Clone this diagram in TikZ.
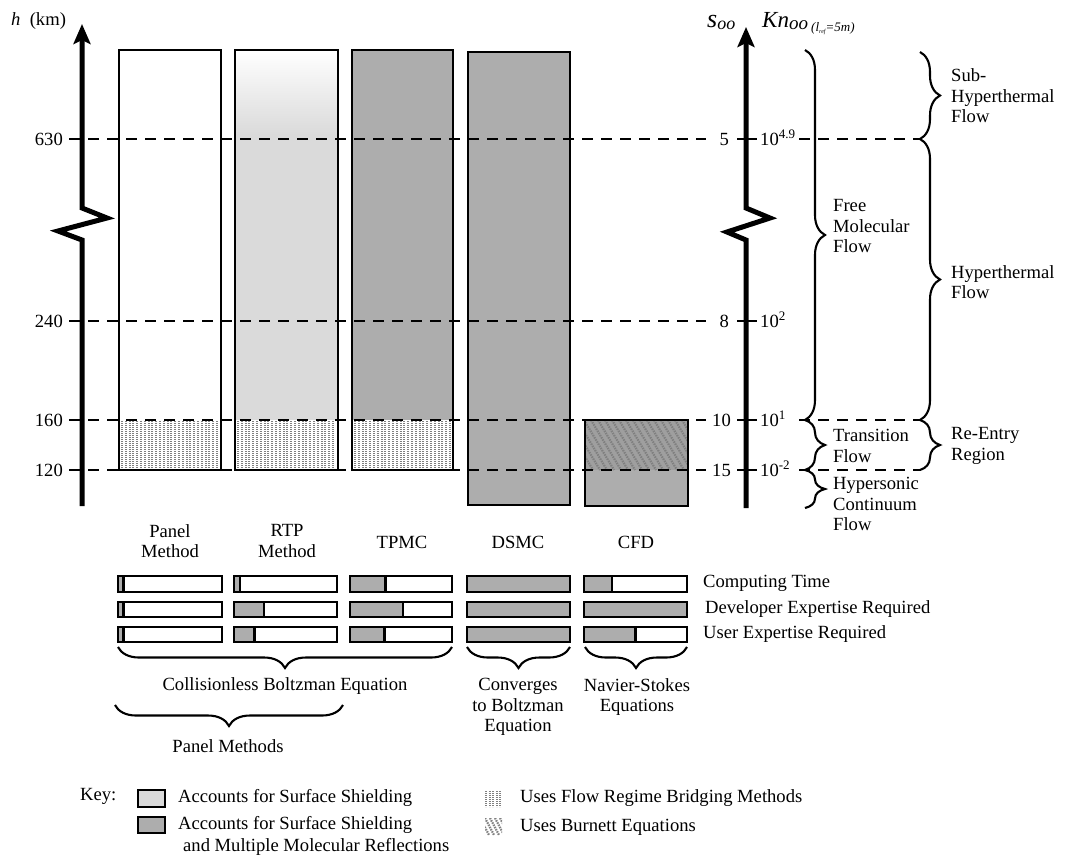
\documentclass[tikz,border=0pt]{standalone}
\usepackage{fontspec}
\setmainfont{Liberation Serif}
\usetikzlibrary{arrows.meta,decorations.pathreplacing}
\definecolor{midgray}{gray}{0.68}
\definecolor{litegray}{gray}{0.855}
\definecolor{hatchgray}{gray}{0.5}
\tikzset{
  txt/.style={font=\fontsize{18.6}{20.5}\selectfont, inner sep=0pt, align=left},
  ctxt/.style={txt, align=center},
  axisline/.style={line width=5pt, line join=miter, -{Stealth[length=20pt,width=17pt,inset=4pt]}},
  level/.style={line width=2.6pt, dash pattern=on 11pt off 8pt},
  tickmark/.style={line width=2.6pt},
  colbox/.style={line width=2.8pt},
  barbox/.style={line width=2.6pt},
  bracer/.style={decorate, decoration={brace, amplitude=20pt}, line width=2.1pt},
  braced/.style={decorate, decoration={brace, amplitude=21pt}, line width=2.1pt},
  hatchv/.style={line width=2pt, hatchgray, dash pattern=on 1.2pt off 0.8pt},
  hatchd/.style={line width=2.2pt, hatchgray, dash pattern=on 1.5pt off 1pt},
}
\begin{document}
\begin{tikzpicture}[x=1pt,y=-1pt]
\useasboundingbox (0,0) rectangle (1065,863);
\fill[white] (0,0) rectangle (1065,863);

% ---------- columns ----------
% Panel
\fill[white] (119,50) rectangle (221,470);
\foreach \x in {122,125.8,...,219} \draw[hatchv] (\x,421) -- (\x,469);
\draw[colbox] (119,50) rectangle (221,470);
% RTP
\shade[top color=white,bottom color=litegray] (235,50) rectangle (338,135);
\fill[litegray] (235,134) rectangle (338,420);
\foreach \x in {238,241.8,...,336} \draw[hatchv] (\x,421) -- (\x,469);
\draw[colbox] (235,50) rectangle (338,470);
% TPMC
\fill[midgray] (352,50) rectangle (453,420);
\foreach \x in {355,358.8,...,451} \draw[hatchv] (\x,421) -- (\x,469);
\draw[colbox] (352,50) rectangle (453,470);
% DSMC
\fill[midgray] (468,52) rectangle (570,505);
\draw[colbox] (468,52) rectangle (570,505);
% CFD
\fill[midgray] (585,420) rectangle (688,506);
\fill[gray!75!white] (585,420) rectangle (688,470);
\begin{scope}
  \clip (585,420) rectangle (688,470);
  \foreach \x in {535,542,...,700} \draw[hatchd] (\x,420) -- (\x+30,470);
\end{scope}
\draw[colbox] (585,420) rectangle (688,506);

% ---------- level lines ----------
\draw[level] (69,139) -- (706,139);
\draw[level] (69,321) -- (706,321);
\draw[level] (69,420) -- (706,420);
\draw[level] (69,470) -- (706,470);
\draw[level] (799,139) -- (921,139);
\draw[level] (799,420) -- (921,420);
\draw[level] (799,470) -- (921,470);
\foreach \y in {139,321,420,470} \draw[tickmark] (737,\y) -- (757,\y);

% ---------- axes ----------
\draw[axisline] (82,506) -- (82,240) -- (58,231) -- (107,218) -- (82,208) -- (82,24);
\draw[axisline] (746,508) -- (746,240) -- (727,232) -- (770,218) -- (746,208) -- (746,27);

% axis titles
\node[txt, anchor=base west] (hkm) at (11,25) {\itshape h\upshape\ \ (km)};
\node[txt, anchor=base west] (soo) at (707,27) {\fontsize{26}{26}\selectfont\itshape s\raisebox{-2pt}{\fontsize{18}{18}\selectfont oo}};
\node[txt, anchor=base west] (kn) at (762,27) {\fontsize{23}{23}\selectfont\itshape Kn\raisebox{-2pt}{\fontsize{19}{19}\selectfont oo\,\raisebox{-2pt}{\fontsize{13}{13}\selectfont(l\raisebox{-2pt}{\fontsize{6}{6}\selectfont ref}=5m)}}};

% left tick labels
\node[txt, anchor=east] (h630) at (63,139) {630};
\node[txt, anchor=east] (h240) at (63,321) {240};
\node[txt, anchor=east] (h160) at (63,420) {160};
\node[txt, anchor=east] (h120) at (63,470) {120};
% right tick labels
\node[txt, anchor=east] (s5) at (729,139) {5};
\node[txt, anchor=east] (s8) at (729,321) {8};
\node[txt, anchor=east] (s10) at (731,420) {10};
\node[txt, anchor=east] (s15) at (731,470) {15};
\node[txt, anchor=base west] (k1) at (760,145) {10\textsuperscript{4.9}};
\node[txt, anchor=base west] (k2) at (760,327) {10\textsuperscript{2}};
\node[txt, anchor=base west] (k3) at (760,426) {10\textsuperscript{1}};
\node[txt, anchor=base west] (k4) at (760,476) {10\textsuperscript{-2}};

% ---------- right braces ----------
\draw[bracer] (805,50) -- (805,420);
\draw[bracer] (805,420) -- (805,470);
\draw[bracer] (805,470) -- (805,508);
\draw[bracer] (920,52) -- (920,139);
\draw[bracer] (920,139) -- (920,420);
\draw[bracer] (920,420) -- (920,470);
\node[txt, anchor=west] (fmf) at (833,226) {Free\\Molecular\\Flow};
\node[txt, anchor=west] (tf) at (833,446) {Transition\\Flow};
\node[txt, anchor=west] (hcf) at (833,504) {Hypersonic\\Continuum\\Flow};
\node[txt, anchor=west] (shf) at (951,96) {Sub-\\Hyperthermal\\Flow};
\node[txt, anchor=west] (hf) at (951,282) {Hyperthermal\\Flow};
\node[txt, anchor=west] (rer) at (951,446) {Re-Entry\\Region};

% ---------- method labels ----------
\node[ctxt] (m1) at (170,541) {Panel\\Method};
\node[ctxt] (m2) at (287,541) {RTP\\Method};
\node[ctxt] (m3) at (402,542) {TPMC};
\node[ctxt] (m4) at (518,542) {DSMC};
\node[ctxt] (m5) at (636,542) {CFD};

% ---------- small bars ----------
\foreach \xa/\xb/\fa/\fb/\fc in {118/222/0.05/0.05/0.05, 234/337/0.06/0.29/0.2, 350/452/0.35/0.52/0.34, 467/570/1/1/1, 584/687/0.27/1/0.5}{
  \foreach \ya/\yb/\f in {576/592/\fa, 602/617/\fb, 627/642/\fc}{
    \fill[white] (\xa,\ya) rectangle (\xb,\yb);
    \fill[midgray] (\xa,\ya) rectangle ({\xa+\f*(\xb-\xa)},\yb);
    \draw[barbox] ({\xa+\f*(\xb-\xa)},\ya) -- ({\xa+\f*(\xb-\xa)},\yb);
    \draw[barbox] (\xa,\ya) rectangle (\xb,\yb);
  }
}
\node[txt, anchor=west] (ct) at (703,583) {Computing Time};
\node[txt, anchor=west] (de) at (705,609) {Developer Expertise Required};
\node[txt, anchor=west] (ue) at (703,634) {User Expertise Required};

% ---------- lower braces ----------
\draw[braced] (452,647) -- (118,647);
\draw[braced] (343,705) -- (115,705);
\draw[braced] (570,647) -- (467,647);
\draw[braced] (687,647) -- (585,647);
\node[ctxt] (cbe) at (285,686) {Collisionless Boltzman Equation};
\node[ctxt] (pm) at (228,746) {Panel Methods};
\node[ctxt] (cbq) at (518,707) {Converges\\to Boltzman\\Equation};
\node[ctxt] (nse) at (637,697) {Navier-Stokes\\Equations};

% ---------- key ----------
\node[txt, anchor=west] (key) at (80,796) {Key:};
\draw[barbox, fill=litegray] (138,790) rectangle (165,807);
\draw[barbox, fill=midgray] (138,817) rectangle (165,833);
\node[txt, anchor=west] (k1t) at (178,798) {Accounts for Surface Shielding};
\node[txt, anchor=west] (k2t) at (178,825) {Accounts for Surface Shielding};
\node[txt, anchor=west] (k3t) at (183,847) {and Multiple Molecular Reflections};
\foreach \x in {486,489.5,...,502} \draw[hatchv] (\x,791) -- (\x,807);
\begin{scope}
  \clip (485,818) rectangle (502,835);
  \foreach \x in {470,475,...,505} \draw[hatchd] (\x,818) -- (\x+9,835);
\end{scope}
\node[txt, anchor=west] (k4t) at (520,798) {Uses Flow Regime Bridging Methods};
\node[txt, anchor=west] (k5t) at (520,827) {Uses Burnett Equations};
\end{tikzpicture}
\end{document}
